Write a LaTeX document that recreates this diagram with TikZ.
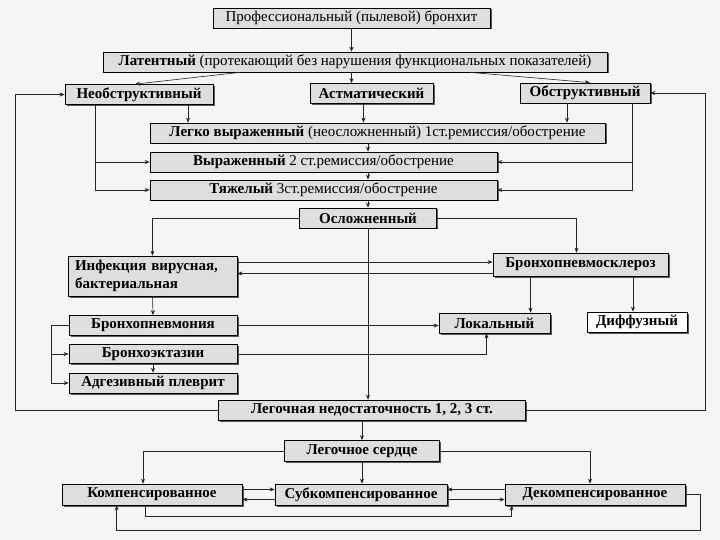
\documentclass[tikz,border=0pt]{standalone}
\usepackage{fontspec}
\setmainfont{Liberation Serif}
\usetikzlibrary{arrows.meta,calc,shadows}

\begin{document}
\begin{tikzpicture}[
    x=1pt, y=-1pt,
    >={Stealth[length=5pt,width=4pt]},
    stage/.style={draw=black, line width=0.7pt, fill=gray!26, inner sep=1pt,
        minimum height=20pt, font=\fontsize{15}{17}\selectfont,
        drop shadow={shadow xshift=1.5pt, shadow yshift=-1.5pt, fill=black!65, opacity=1}},
    link/.style={draw=black!85, line width=0.6pt, ->}
]

% Paper
\fill[gray!8] (0,0) rectangle (720,540);
\useasboundingbox (0,0) rectangle (720,540);

% ===== Upper part =====
\node[stage, minimum width=277pt] (prof) at (351.5,18)
    {Профессиональный (пылевой) бронхит};
\node[stage, minimum width=504pt] (lat) at (355,62)
    {\textbf{Латентный} (протекающий без нарушения функциональных показателей)};

\node[stage, minimum width=148pt] (neobs) at (139,94.5) {\textbf{Необструктивный}};
\node[stage, minimum width=123pt] (astm) at (371.5,93.5) {\textbf{Астматический}};
\node[stage, minimum width=130pt] (obs) at (585,93) {\textbf{Обструктивный}};

\node[stage, minimum width=455pt] (legko) at (377.5,133)
    {\textbf{Легко выраженный} (неосложненный) 1ст.ремиссия/обострение};
\node[stage, minimum width=347pt] (vyr) at (323.5,162)
    {\textbf{Выраженный} 2 ст.ремиссия/обострение};
\node[stage, minimum width=347pt] (tyazh) at (323.5,190)
    {\textbf{Тяжелый} 3ст.ремиссия/обострение};
\node[stage, minimum width=137pt] (osl) at (368,218) {\textbf{Осложненный}};

% ===== Complications =====
\node[stage, text width=155pt, inner xsep=7pt, minimum height=40pt, align=left,
    font=\fontsize{15}{18}\selectfont] (infek) at (152.5,276)
    {\textbf{Инфекция вирусная,}\\\textbf{бактериальная}};
\node[stage, minimum width=175pt, minimum height=23pt] (bps) at (580.5,264.5)
    {\textbf{Бронхопневмосклероз}};
\node[stage, minimum width=168pt] (pnevm) at (153,325.5) {\textbf{Бронхопневмония}};
\node[stage, minimum width=111pt] (lokal) at (494.5,323) {\textbf{Локальный}};
\node[stage, minimum width=100pt, fill=white] (diff) at (637,322) {\textbf{Диффузный}};
\node[stage, minimum width=168pt, minimum height=19pt] (ekt) at (153,354) {\textbf{Бронхоэктазии}};
\node[stage, minimum width=168pt] (adg) at (153,383) {\textbf{Адгезивный плеврит}};

\node[stage, minimum width=307pt] (ln) at (372,410)
    {\textbf{Легочная недостаточность 1, 2, 3 ст.}};

% ===== Cor pulmonale =====
\node[stage, minimum width=155pt, minimum height=21pt] (ls) at (362,451) {\textbf{Легочное сердце}};
\node[stage, minimum width=180pt, minimum height=21pt] (komp) at (152,494.5) {\textbf{Компенсированное}};
\node[stage, minimum width=172pt, minimum height=21pt] (subk) at (361,494.5) {\textbf{Субкомпенсированное}};
\node[stage, minimum width=180pt, minimum height=21pt] (dekomp) at (595,494.5) {\textbf{Декомпенсированное}};

% helper lines for the loops
\coordinate (lft) at (15,0);
\coordinate (rgt) at (705,0);
\coordinate (bl) at (51,0);
\coordinate (rb) at (700,530);

% ===== Connectors =====
\draw[link] (prof.south) -- (prof.south |- lat.north);
\draw[link] ($(lat.south)+(-115,0)$) -- ($(neobs.north)+(-4,0)$);
\draw[link] (lat.south -| prof.south) -- (astm.north -| prof.south);
\draw[link] ($(lat.south)+(115,0)$) -- ($(obs.north)+(5,0)$);

\draw[link] ($(neobs.south)+(49,0)$) coordinate (n1) -- (n1 |- legko.north);
\draw[link] ($(astm.south)+(-8,0)$) coordinate (a1) -- (a1 |- legko.north);
\draw[link] ($(obs.south)+(-18,0)$) coordinate (o1) -- (o1 |- legko.north);

\draw[link] ($(neobs.south)+(-44,0)$) coordinate (n2) |- (vyr.west);
\draw[link] (n2) |- (tyazh.west);
\draw[link] ($(obs.south)+(47,0)$) coordinate (o2) |- (vyr.east);
\draw[link] (o2) |- (tyazh.east);

\draw[link] (legko.south -| osl.south) -- (vyr.north -| osl.south);
\draw[link] (vyr.south -| osl.south) -- (tyazh.north -| osl.south);
\draw[link] (tyazh.south -| osl.south) -- (osl.north);

% big loops back to the top
\draw[link] (ln.west) -| (lft |- neobs.west) -- (neobs.west);
\draw[link] (ln.east) -| (rgt |- obs.east) -- (obs.east);

\draw[link] (osl.west) -| (infek.north);
\draw[link] (osl.east) -| ($(bps.north)+(-4,0)$);
\draw[link] (osl.south) -- (osl.south |- ln.north);

\draw[link] ($(infek.east)+(0,-14)$) coordinate (i1) -- (i1 -| bps.west);
\draw[link] ($(bps.west)+(0,9)$) coordinate (b1) -- (b1 -| infek.east);
\draw[link] ($(bps.south)+(-50,0)$) coordinate (b2) -- (b2 |- lokal.north);
\draw[link] ($(bps.south)+(52.5,0)$) coordinate (b3) -- (b3 |- diff.north);

\draw[link] (infek.south) -- (pnevm.north);
\draw[link] (pnevm.east) -- (pnevm.east -| lokal.west);
\draw[link] (ekt.east) -| ($(lokal.south)+(-8,0)$);
\draw[link] (pnevm.west) -| (bl |- adg.west) -- (adg.west);
\draw[link] (bl |- ekt.west) -- (ekt.west);
\draw[link] (ekt.south) -- (adg.north);

\draw[link] (ls.north |- ln.south) -- (ls.north);
\draw[link] (ls.west) -| ($(komp.north)+(-9,0)$);
\draw[link] (ls.east) -| ($(dekomp.north)+(-5,0)$);
\draw[link] (ls.south) -- (ls.south |- subk.north);

\draw[link] ($(komp.east)+(0,-5)$) coordinate (k1) -- (k1 -| subk.west);
\draw[link] ($(subk.west)+(0,5)$) coordinate (s1) -- (s1 -| komp.east);
\draw[link] ($(dekomp.west)+(0,-5)$) coordinate (d1) -- (d1 -| subk.east);
\draw[link] ($(subk.east)+(0,5)$) coordinate (s2) -- (s2 -| dekomp.west);

\draw[link] ($(komp.south)+(-7,0)$) -- ++(0,11) -| ($(dekomp.south west)+(7,0)$);
\draw[link] (dekomp.east) -| (rb) -| ($(komp.south west)+(55,0)$);

\end{tikzpicture}
\end{document}
